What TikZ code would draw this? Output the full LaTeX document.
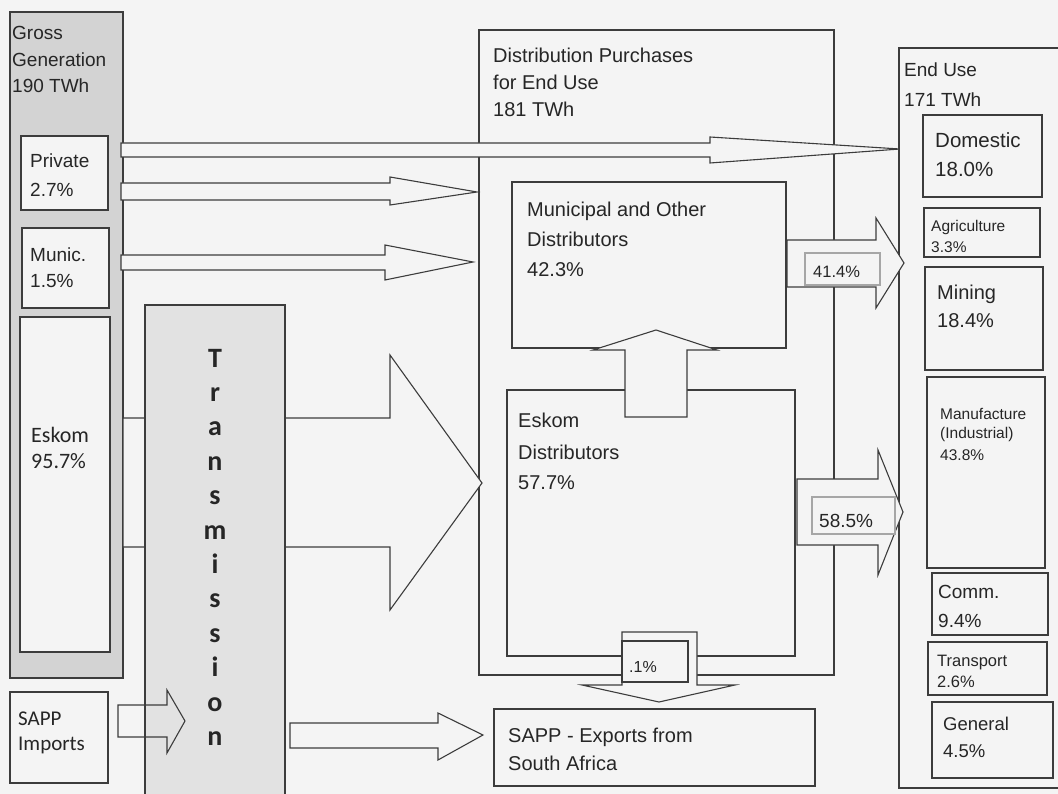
\documentclass[tikz,border=0pt]{standalone}
\usepackage{fontspec}
\setmainfont{Liberation Sans}
\newfontfamily\calfont{Carlito}
\usetikzlibrary{fit}
\newcommand\fsz[1]{\fontsize{#1}{#1}\selectfont}
\definecolor{bgc}{HTML}{F4F4F4}
\definecolor{linec}{HTML}{3C3C3C}
\definecolor{txtc}{HTML}{262626}
\definecolor{grayA}{HTML}{D3D3D3}
\definecolor{grayB}{HTML}{E2E2E2}
\begin{document}
\begin{tikzpicture}[x=1pt,y=-1pt,
  box/.style={draw=linec,line width=1.2pt,fill=bgc,inner sep=0pt},
  blk/.style={draw=linec,line width=1.1pt,fill=bgc,line join=miter},
  blko/.style={draw=linec,line width=1.1pt,line join=miter},
  txt/.style={anchor=base west,inner sep=0pt,text=txtc},
  lbl/.style={draw=gray!70,line width=1.1pt,fill=bgc,inner sep=0pt}]
\useasboundingbox (0,0) rectangle (1058,794);
\fill[bgc] (0,0) rectangle (1058,794);
% ---------- Gross generation column
\node[box,fill=grayA,fit={(10,12) (123,678)}] (gross) {};
\node[txt,font=\fsz{19}] (g1) at (12,40) {Gross};
\node[txt,font=\fsz{19}] (g2) at (12,67) {Generation};
\node[txt,font=\fsz{19}] (g3) at (12,93) {190 TWh};
\node[box,fit={(21,136) (108,210)}] (priv) {};
\node[txt,font=\fsz{19}] (p1) at (30,168) {Private};
\node[txt,font=\fsz{19}] (p2) at (30,197) {2.7\%};
\node[box,fit={(22,228) (109,308)}] (munic) {};
\node[txt,font=\fsz{19}] (m1) at (30,262) {Munic.};
\node[txt,font=\fsz{19}] (m2) at (30,288) {1.5\%};
\node[box,fit={(20,317) (110,652)}] (eskom) {};
\node[txt,font=\calfont\fsz{22}] (e1) at (31,442) {Eskom};
\node[txt,font=\calfont\fsz{22}] (e2) at (31,468) {95.7\%};
% ---------- Distribution purchases box
\node[box,fit={(479,30) (834,675)}] (dist) {};
\node[txt,font=\fsz{20}] (d1) at (493,63) {Distribution Purchases};
\node[txt,font=\fsz{20}] (d2) at (493,90) {for End Use};
\node[txt,font=\fsz{20}] (d3) at (493,117) {181 TWh};
% ---------- big Eskom arrow (behind transmission)
\draw[blk] (123,418) -- (390,418) -- (390,355) -- (482,483) -- (390,610) -- (390,547) -- (123,547) -- cycle;
% ---------- Transmission
\node[box,fill=grayB,fit={(145,305) (285,800)}] (trans) {};
\foreach \l [count=\i from 0] in {T,r,a,n,s,m,i,s,s,i,o,n}{
  \node[anchor=base,inner sep=0pt,text=txtc,font=\calfont\bfseries\fsz{28}] (tr\i) at (215,367+34.4*\i) {\l};
}
% ---------- SAPP imports
\node[box,fit={(10,692) (108,783)}] (imp) {};
\node[txt,font=\calfont\fsz{21}] (i1) at (18,725) {SAPP};
\node[txt,font=\calfont\fsz{21}] (i2) at (18,750) {Imports};
\draw[blko] (118,705) -- (167,705) -- (167,690) -- (185,721) -- (167,753) -- (167,737) -- (118,737) -- cycle;
% ---------- SAPP exports
\draw[blk] (290,723) -- (438,723) -- (438,713) -- (483,735) -- (438,760) -- (438,748) -- (290,748) -- cycle;
\node[box,fit={(494,709) (815,786)}] (exp) {};
\node[txt,font=\fsz{20}] (x1) at (508,742) {SAPP - Exports from};
\node[txt,font=\fsz{20}] (x2) at (508,770) {South Africa};
% ---------- distributors
\node[box,fit={(512,182) (786,348)}] (mun) {};
\node[txt,font=\fsz{20}] (u1) at (527,217) {Municipal and Other};
\node[txt,font=\fsz{20}] (u2) at (527,247) {Distributors};
\node[txt,font=\fsz{20}] (u3) at (527,277) {42.3\%};
\node[box,fit={(507,390) (795,656)}] (eskd) {};
\node[txt,font=\fsz{20}] (k1) at (518,428) {Eskom};
\node[txt,font=\fsz{20}] (k2) at (518,459) {Distributors};
\node[txt,font=\fsz{20}] (k3) at (518,489) {57.7\%};
% up arrow
\draw[blk] (625,417) -- (625,350) -- (593,350) -- (656,330) -- (717,350) -- (687,350) -- (687,417) -- cycle;
% down arrow .1%
\draw[blk] (622,632) -- (697,632) -- (697,685) -- (735,685) -- (659,702) -- (582,685) -- (622,685) -- cycle;
\node[box,fit={(622,641) (688,682)}] (p01) {};
\node[txt,font=\fsz{16}] (p01t) at (629,672) {.1\%};
% ---------- arrows from generation
\draw[blk] (121,183) -- (390,183) -- (390,177) -- (477,192) -- (390,205) -- (390,200) -- (121,200) -- cycle;
\draw[blk] (121,255) -- (385,255) -- (385,245) -- (473,262) -- (385,280) -- (385,270) -- (121,270) -- cycle;
\draw[blk] (121,143) -- (710,143) -- (710,137) -- (900,149) -- (710,163) -- (710,157) -- (121,157) -- cycle;
% ---------- End use
\node[box,fit={(899,48) (1064,788)}] (end) {};
\node[txt,font=\fsz{19}] (n1) at (904,77) {End Use};
\node[txt,font=\fsz{19}] (n2) at (904,107) {171 TWh};
\node[box,fit={(923,115) (1042,197)}] (dom) {};
\node[txt,font=\fsz{20.5}] (dom1) at (935,148) {Domestic};
\node[txt,font=\fsz{20.5}] (dom2) at (935,177) {18.0\%};
\node[box,fit={(924,208) (1040,257)}] (agr) {};
\node[txt,font=\fsz{15.5}] (agr1) at (931,232) {Agriculture};
\node[txt,font=\fsz{15.5}] (agr2) at (931,253) {3.3\%};
\node[box,fit={(925,267) (1043,370)}] (min) {};
\node[txt,font=\fsz{20}] (min1) at (937,300) {Mining};
\node[txt,font=\fsz{20}] (min2) at (937,328) {18.4\%};
\node[box,fit={(927,377) (1045,568)}] (man) {};
\node[txt,font=\fsz{15.5}] (man1) at (940,419) {Manufacture};
\node[txt,font=\fsz{15.5}] (man2) at (940,438) {(Industrial)};
\node[txt,font=\fsz{15.5}] (man3) at (940,460) {43.8\%};
\node[box,fit={(932,573) (1048,635)}] (com) {};
\node[txt,font=\fsz{19}] (com1) at (938,598) {Comm.};
\node[txt,font=\fsz{19}] (com2) at (938,627) {9.4\%};
\node[box,fit={(928,642) (1047,695)}] (tra) {};
\node[txt,font=\fsz{16.5}] (tra1) at (937,666) {Transport};
\node[txt,font=\fsz{16.5}] (tra2) at (937,687) {2.6\%};
\node[box,fit={(932,702) (1053,778)}] (gen) {};
\node[txt,font=\fsz{18.5}] (gen1) at (943,730) {General};
\node[txt,font=\fsz{18.5}] (gen2) at (943,757) {4.5\%};
% ---------- arrows to end use
\draw[blk] (787,240) -- (876,240) -- (876,218) -- (904,263) -- (876,308) -- (876,287) -- (787,287) -- cycle;
\node[lbl,fit={(805,253) (880,285)}] (l41) {};
\node[txt,font=\fsz{16.5}] (l41t) at (813,278) {41.4\%};
\draw[blk] (797,479) -- (878,479) -- (878,450) -- (903,512) -- (878,575) -- (878,545) -- (797,545) -- cycle;
\node[lbl,fit={(812,497) (895,534)}] (l58) {};
\node[txt,font=\fsz{19}] (l58t) at (819,527) {58.5\%};
\end{tikzpicture}
\end{document}
